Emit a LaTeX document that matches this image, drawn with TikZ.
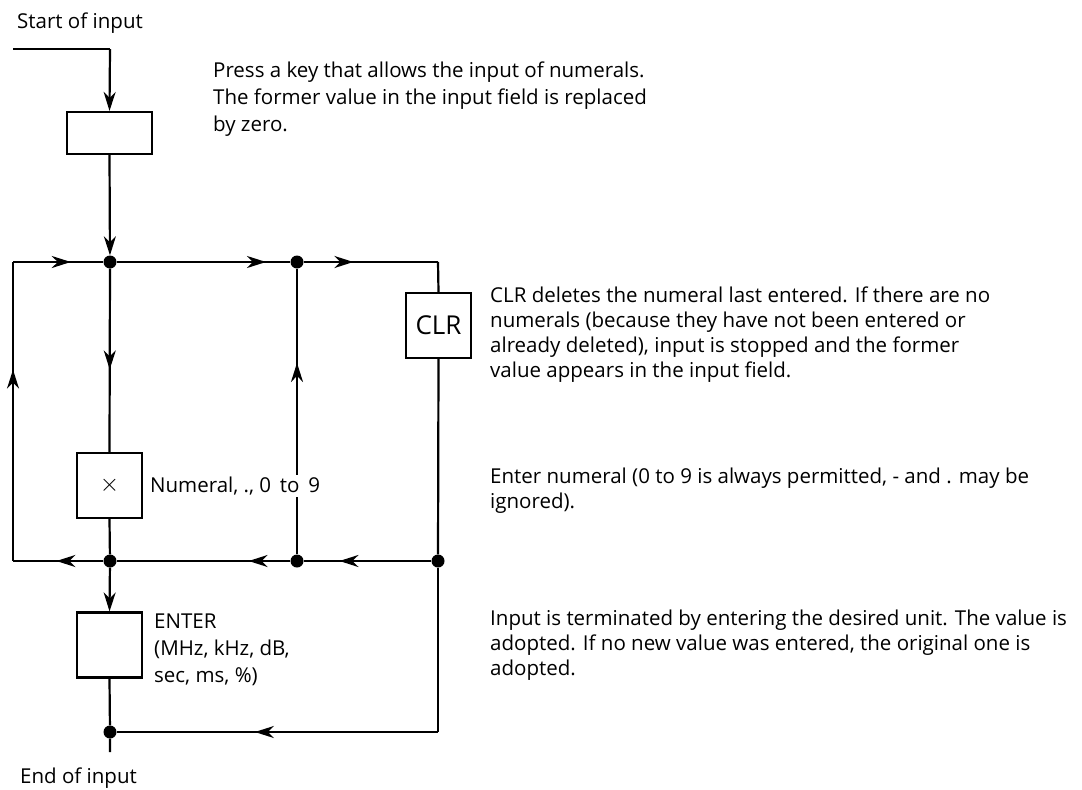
\documentclass[tikz,border=0pt]{standalone}
\usepackage{fontspec}
\setmainfont{Open Sans}
\usetikzlibrary{arrows.meta,positioning,decorations.markings}
\tikzset{
  keybox/.style ={rectangle, draw, line width=2.2pt, minimum width=65pt,
                  minimum height=65pt, inner sep=0pt},
  widebox/.style={keybox, minimum width=85pt, minimum height=42pt},
  flow/.style   ={line width=2.2pt},
  flowend/.style={line width=2.2pt, -{Stealth[length=19pt,width=12pt,inset=6pt]}},
  midarr/.style ={line width=2.2pt, postaction={decorate},
                  decoration={markings, mark=at position #1 with
                  {\arrow{Stealth[length=19pt,width=12pt,inset=6pt]}}}},
  jdot/.style   ={circle, fill, inner sep=0pt, minimum size=13pt},
  note/.style   ={font=\fontsize{20.5}{25}\selectfont, align=left, anchor=west,
                  inner sep=0pt},
  lbl/.style    ={font=\fontsize{20.5}{25}\selectfont, align=left, anchor=west,
                  inner sep=2pt}
}
\begin{document}
\begin{tikzpicture}[x=1pt, y=-1pt]
\useasboundingbox (0,0) rectangle (1082,790);
% boxes
\node[widebox] (keyin) at (109.5,133) {};
\node[keybox] (numbox) at (109.5,485.5) {\fontsize{28}{28}\selectfont$\times$};
\node[keybox] (clrbox) at (438.5,325.5) {\fontsize{26}{26}\selectfont CLR};
\node[keybox] (entbox) at (109.5,645) {};
% junctions
\node[jdot] (j1) at (110,262) {};
\node[jdot] (j2) at (297,262) {};
\node[jdot] (j3) at (110,561) {};
\node[jdot] (j4) at (297,561) {};
\node[jdot] (j5) at (438,561) {};
\node[jdot] (j6) at (110,732) {};
\coordinate (startpt) at (13,49);
\coordinate (startcn) at (110,49);
\coordinate (lt) at (13,262);
\coordinate (lb) at (13,561);
\coordinate (rt) at (438,262);
\coordinate (rb) at (438,732);
\coordinate (endpt) at (110,752);
% connectors
\draw[flow] (startpt) -- (startcn);
\draw[flowend] (startcn) -- (keyin.north);
\draw[flowend] (keyin.south) -- (j1);
\draw[midarr=0.55] (j1) -- (numbox.north);
\draw[flow] (numbox.south) -- (j3);
\draw[flowend] (j3) -- (entbox.north);
\draw[flow] (entbox.south) -- (j6) -- (endpt);
\draw[midarr=0.86] (j1) -- (j2);
\draw[midarr=0.37] (j2) -- (rt);
\draw[flow] (rt) -- (clrbox.north);
\draw[flow] (clrbox.south) -- (j5);
\draw[midarr=0.72] (j5) -- (j4);
\draw[midarr=0.24] (j4) -- (j3);
\draw[midarr=0.52] (j3) -- (lb);
\draw[midarr=0.64] (lb) -- (lt);
\draw[midarr=0.64] (lt) -- (j1);
\draw[midarr=0.67] (j4) -- (j2);
\draw[flow] (j5) -- (rb);
\draw[midarr=0.57] (rb) -- (j6);
% labels
\node[note] (tstart) at (17,23) {Start of input};
\node[note] (tend) at (20,778) {End of input};
\node[lbl, fill=white] (tnum) at (148,486) {Numeral, ., 0 \,to\, 9};
\node[note, font=\fontsize{20.5}{27}\selectfont] (tent) at (154,650)
  {ENTER\\(MHz, kHz, dB,\\sec, ms, \%)};
\node[note, font=\fontsize{20.5}{27}\selectfont] (tpress) at (213,99)
  {Press a key that allows the input of numerals.\\
   The former value in the input field is replaced\\by zero.};
\node[note] (tclr) at (490,335)
  {CLR deletes the numeral last entered. If there are no\\
   numerals (because they have not been entered or\\
   already deleted), input is stopped and the former\\
   value appears in the input field.};
\node[note] (tnumx) at (490,491)
  {Enter numeral (0 to 9 is always permitted, - and . may be\\ignored).};
\node[note] (tenter) at (490,645)
  {Input is terminated by entering the desired unit. The value is\\
   adopted. If no new value was entered, the original one is\\adopted.};
\end{tikzpicture}
\end{document}
